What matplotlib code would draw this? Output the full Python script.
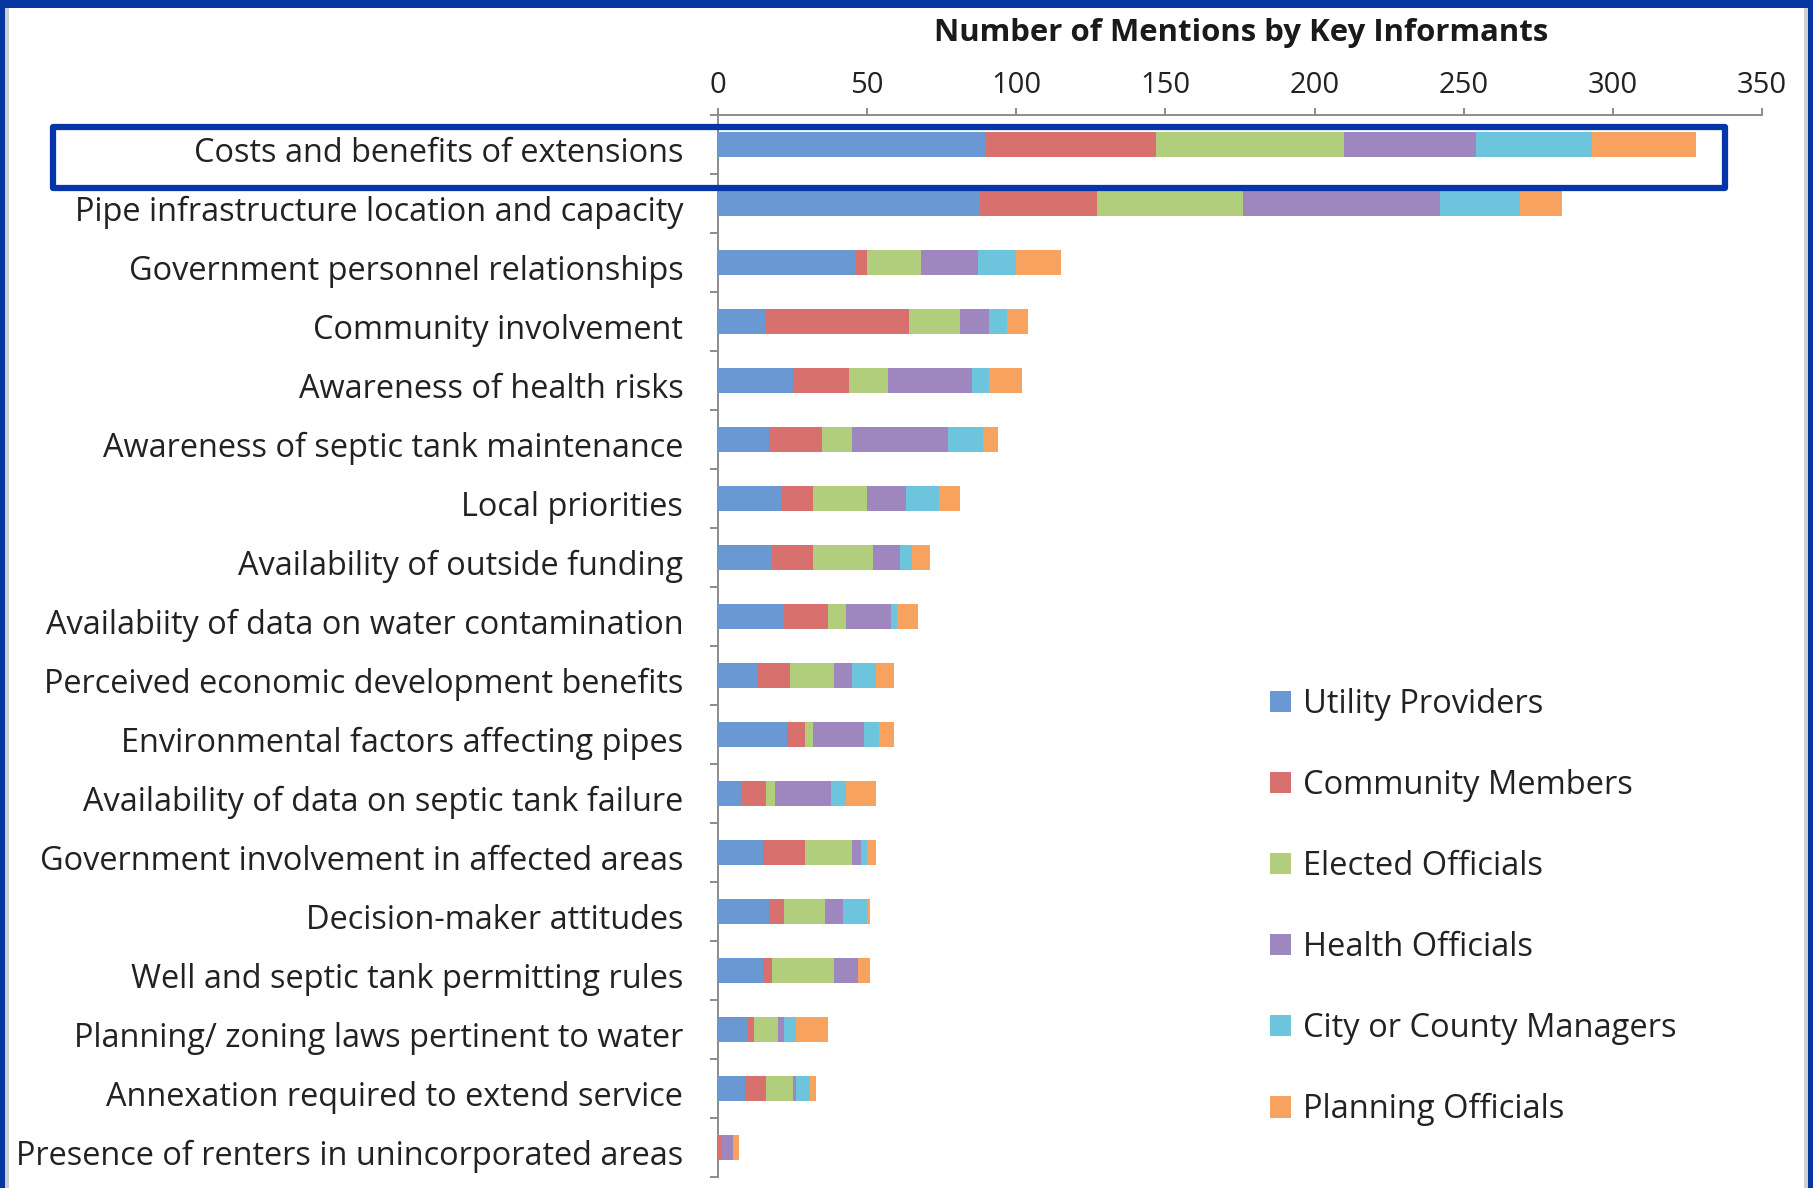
import numpy as np
import matplotlib
matplotlib.use("Agg")
import matplotlib.pyplot as plt
from matplotlib.patches import Rectangle
from matplotlib.transforms import ScaledTranslation

plt.rcParams['font.family'] = ['Open Sans', 'DejaVu Sans']

# categories, top to bottom
categories = [
    "Costs and benefits of extensions",
    "Pipe infrastructure location and capacity",
    "Government personnel relationships",
    "Community involvement",
    "Awareness of health risks",
    "Awareness of septic tank maintenance",
    "Local priorities",
    "Availability of outside funding",
    "Availabiity of data on water contamination",
    "Perceived economic development benefits",
    "Environmental factors affecting pipes",
    "Availability of data on septic tank failure",
    "Government involvement in affected areas",
    "Decision-maker attitudes",
    "Well and septic tank permitting rules",
    "Planning/ zoning laws pertinent to water",
    "Annexation required to extend service",
    "Presence of renters in unincorporated areas",
]

series_names = ["Utility Providers", "Community Members", "Elected Officials",
                "Health Officials", "City or County Managers", "Planning Officials"]

utility   = [90, 88, 46, 16, 25, 17, 21, 18, 22, 13, 23, 8, 15, 17, 15, 10, 9, 0]
community = [57, 39, 4, 48, 19, 18, 11, 14, 15, 11, 6, 8, 14, 5, 3, 2, 7, 1]
elected   = [63, 49, 18, 17, 13, 10, 18, 20, 6, 15, 3, 3, 16, 14, 21, 8, 9, 0]
health    = [44, 66, 19, 10, 28, 32, 13, 9, 15, 6, 17, 19, 3, 6, 8, 2, 1, 4]
city      = [39, 27, 13, 6, 6, 12, 11, 4, 2, 8, 5, 5, 2, 8, 0, 4, 5, 0]
planning  = [35, 14, 15, 7, 11, 5, 7, 6, 7, 6, 5, 10, 3, 1, 4, 11, 2, 2]

colors = ["#6A98D2", "#D8706E", "#B1CE7C", "#9E86BF", "#6DC4DD", "#F7A25E"]

W, H = 1813, 1188
fig = plt.figure(figsize=(W / 100, H / 100), dpi=100, facecolor="#0637A0")

# white slide area with thin gray edges
fig.patches.append(Rectangle((5 / W, 0), 1803 / W, 1 - 8 / H, transform=fig.transFigure,
                             facecolor="white", edgecolor="none", zorder=-2))
fig.patches.append(Rectangle((5 / W, 0), 4 / W, 1 - 8 / H, transform=fig.transFigure,
                             facecolor="#CFCFCF", edgecolor="none", zorder=-1))
fig.patches.append(Rectangle((1804 / W, 0), 4 / W, 1 - 8 / H, transform=fig.transFigure,
                             facecolor="#CFCFCF", edgecolor="none", zorder=-1))

ax = fig.add_axes([718 / W, 11 / H, (1762 - 718) / W, (1177 - 115) / H])
ax.set_facecolor("none")
ax.set_zorder(2)

y = np.arange(len(categories))
left = np.zeros(len(categories))
for name, vals, c in zip(series_names,
                         [utility, community, elected, health, city, planning], colors):
    ax.barh(y, vals, left=left, height=0.41, color=c, label=name, zorder=3)
    left += np.array(vals)

ax.set_xlim(0, 350)
ax.set_ylim(len(categories) - 0.5, -0.5)
ax.set_xticks(np.arange(0, 351, 50))
ax.xaxis.tick_top()
ax.tick_params(axis="x", direction="out", length=5, width=1.4, color="#8C8C8C",
               labelsize=21, labelcolor="#222222", pad=6)
ax.set_yticks(y)
ax.set_yticklabels(categories)
ax.set_yticks(np.arange(-0.5, len(categories), 1), minor=True)
ax.tick_params(axis="y", which="major", length=0, labelsize=23.4, labelcolor="#222222", pad=25)
ax.tick_params(axis="y", which="minor", direction="out", length=6, width=1.4, color="#8C8C8C")
# labels sit a little below the bar centres in the original
for lab in ax.get_yticklabels():
    lab.set_transform(lab.get_transform() + ScaledTranslation(0, -5 / 100, fig.dpi_scale_trans))

for s in ["right", "bottom"]:
    ax.spines[s].set_visible(False)
for s in ["top", "left"]:
    ax.spines[s].set_color("#8C8C8C")
    ax.spines[s].set_linewidth(1.4)

fig.text(1241 / W, 1 - 33 / H, "Number of Mentions by Key Informants",
         ha="center", va="center", fontsize=22.4, fontweight="bold", color="#1a1a1a")

fig.legend(loc="upper left", bbox_to_anchor=(1270 / W, 1 - 688 / H), frameon=False,
           fontsize=23.5, handlelength=0.65, handleheight=0.65, handletextpad=0.35,
           labelspacing=1.47, borderpad=0, borderaxespad=0, labelcolor="#222222")

# highlight box around the first row
fig.patches.append(Rectangle((53 / W, 1 - 188 / H), (1725 - 53) / W, 61 / H,
                             transform=fig.transFigure, facecolor="none",
                             edgecolor="#0535A8", linewidth=4.5, joinstyle="round",
                             zorder=5))

fig.savefig("out.png", dpi=100)
